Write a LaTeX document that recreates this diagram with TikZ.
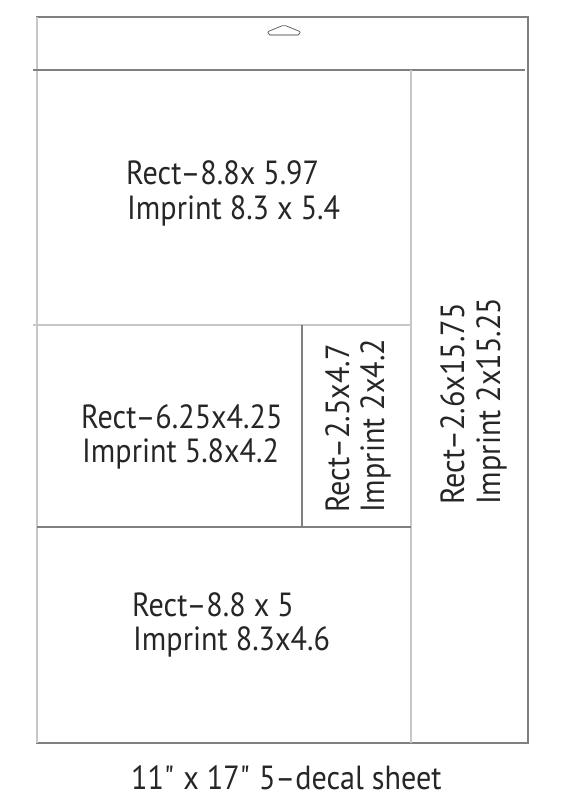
\documentclass[tikz,border=0pt]{standalone}
\usepackage{fontspec}
\setmainfont[FakeStretch=0.9]{PT Sans}
\begin{document}
\begin{tikzpicture}[x=1pt,y=-1pt]
\tikzstyle{edge}=[draw=black!50, line width=1.2pt]
\tikzstyle{soft}=[draw=black!22, line width=2pt]
\tikzstyle{lbl}=[anchor=base west, inner sep=0pt, text=black!85,
                        font=\fontsize{33.5}{35}\selectfont]
\useasboundingbox (0,0) rectangle (567,811);
% sheet
\coordinate (tl) at (37,17);
\coordinate (br) at (528,743);
\draw[edge] (tl) rectangle (br);
\draw[soft] (37,17) -- (37,743);
\draw[edge] (33,70) -- (525,70);
% hanger hole
\draw[black!60, line width=0.8pt, rounded corners=2pt]
  (298,35) -- (301,32) -- (284,25) -- (267,32) -- (270,35);
\draw[black!30, line width=1.2pt] (270,35) -- (298,35);
% cuts
\draw[soft] (411,70) -- (411,743);
\draw[soft] (33,325) -- (411,325);
\draw[edge] (302,325) -- (302,527);
\draw[edge] (37,527) -- (411,527);
% labels
\node[lbl](a1) at (126,184){Rect--8.8x 5.97};
\node[lbl](a2) at (127,219){Imprint 8.3 x 5.4};
\node[lbl](b1) at (81,428){Rect--6.25x4.25};
\node[lbl](b2) at (82,462){Imprint 5.8x4.2};
\node[lbl](c1) at (132,616){Rect--8.8 x 5};
\node[lbl](c2) at (133,650){Imprint 8.3x4.6};
\node[lbl, rotate=90](d1) at (349,513){Rect--2.5x4.7};
\node[lbl, rotate=90](d2) at (384,513){Imprint 2x4.2};
\node[lbl, rotate=90](e1) at (464,505){Rect--2.6x15.75};
\node[lbl, rotate=90](e2) at (500,505){Imprint 2x15.25};
\node[lbl](cap) at (131,789){11\textquotedbl{} x 17\textquotedbl{} 5--decal sheet};
\end{tikzpicture}
\end{document}
